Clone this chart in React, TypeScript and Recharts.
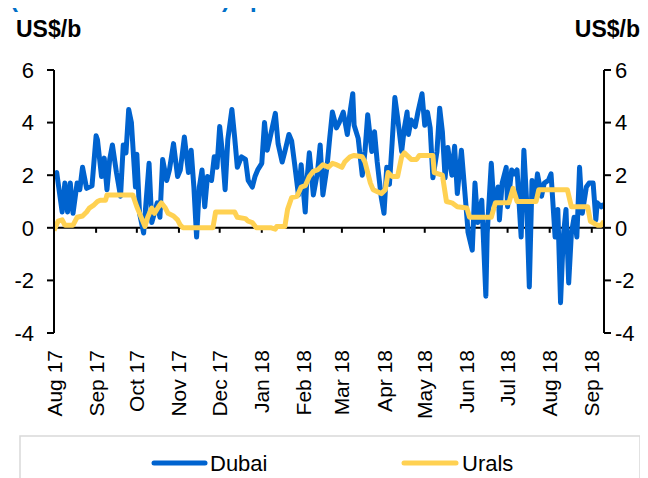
import React from 'react';
import { LineChart, Line, XAxis, YAxis, ReferenceLine } from 'recharts';

// Day offsets counted from 1 Aug 2017
const monthLabels = ['Aug 17', 'Sep 17', 'Oct 17', 'Nov 17', 'Dec 17', 'Jan 18', 'Feb 18', 'Mar 18', 'Apr 18', 'May 18', 'Jun 18', 'Jul 18', 'Aug 18', 'Sep 18'];
const monthDays = [0, 31, 61, 92, 122, 153, 184, 212, 243, 273, 304, 334, 365, 396];
const yTicks = [-4, -2, 0, 2, 4, 6];

const dubaiDays = [
  0, 2, 6, 8, 10, 12, 14, 17, 19, 21, 24, 28, 31, 32, 35, 37, 39, 41, 43, 46,
  49, 51, 53, 55, 57, 60, 61, 63, 66, 70, 72, 76, 78, 80, 83, 85, 88, 91, 93, 96,
  99, 101, 103, 105, 107, 109, 111, 113, 116, 118, 120, 122, 124, 126, 128, 131, 133, 135, 138, 141,
  143, 146, 148, 150, 153, 155, 157, 159, 163, 165, 168, 170, 173, 175, 177, 180, 182, 185, 186, 188,
  191, 194, 196, 198, 201, 203, 205, 208, 210, 213, 216, 218, 220, 221, 224, 227, 229, 231, 234, 236,
  238, 241, 243, 245, 247, 249, 251, 253, 256, 258, 260, 261, 263, 266, 268, 271, 273, 275, 277, 279,
  282, 284, 286, 288, 290, 293, 295, 297, 300, 302, 305, 308, 310, 312, 315, 318, 319, 322, 324, 327,
  328, 330, 333, 334, 337, 339, 341, 344, 346, 348, 350, 352, 354, 356, 359, 361, 364, 366, 369, 371,
  373, 375, 377, 379, 381, 383, 385, 387, 389, 392, 394, 397, 399, 400, 403, 405,
];
const dubaiValues = [
  2.0, 2.1, 0.6, 1.7, 0.6, 1.7, 0.55, 1.7, 1.45, 2.3, 1.5, 1.6, 3.5, 3.35, 1.95, 2.65, 1.45, 2.6, 3.15, 2.1,
  1.2, 3.15, 2.85, 4.5, 4.0, 1.55, 2.8, 0.55, -0.2, 2.45, 0.2, 0.95, 0.4, 2.6, 1.8, 2.2, 3.2, 1.95, 2.2, 3.45,
  2.1, 2.95, 1.55, -0.35, 1.55, 2.2, 0.8, 1.95, 1.8, 2.7, 2.3, 3.85, 2.85, 1.45, 3.35, 4.5, 3.45, 2.3, 2.7, 2.6,
  1.8, 1.55, 1.95, 2.2, 2.45, 4.0, 2.95, 3.4, 4.35, 3.2, 2.5, 2.9, 3.55, 3.3, 2.5, 1.25, 2.4, 0.6, 1.65, 2.85,
  1.25, 2.1, 3.15, 1.25, 2.3, 3.4, 4.4, 3.8, 4.0, 4.4, 3.55, 4.4, 5.1, 3.9, 3.4, 2.0, 2.9, 4.3, 2.9, 3.65,
  2.5, 1.15, 0.55, 2.3, 1.65, 3.25, 4.95, 4.2, 2.9, 3.8, 4.4, 3.55, 4.1, 3.85, 4.4, 5.1, 3.9, 4.4, 3.8, 1.9,
  2.9, 4.55, 3.65, 1.9, 3.05, 2.0, 3.1, 1.3, 2.95, 1.7, -0.2, -0.85, 1.7, 0.2, 1.05, -2.6, -0.2, 2.45, 0.8, 1.55,
  0.3, 1.7, 2.3, 0.8, 2.2, 2.05, 2.2, -0.35, 2.95, 1.05, -2.25, 1.8, 1.05, 2.05, 1.2, 1.7, 1.8, 2.05, -0.35, 0.7,
  -2.85, -0.35, 0.7, -2.1, -0.2, 0.4, -0.35, 2.3, 0.55, 1.55, 1.7, 1.7, 0.3, 0.95, 0.8, 0.9,
];

const uralsDays = [
  0, 3, 6, 8, 14, 17, 21, 24, 26, 29, 32, 34, 38, 39, 58, 61, 63, 67, 69, 72,
  74, 77, 79, 82, 84, 88, 91, 93, 95, 117, 119, 133, 135, 141, 143, 146, 149, 160, 163, 164,
  170, 172, 175, 179, 182, 185, 188, 191, 194, 198, 202, 205, 208, 212, 214, 218, 221, 227, 229, 233,
  235, 241, 244, 246, 249, 253, 256, 258, 263, 267, 269, 279, 280, 286, 289, 293, 297, 304, 306, 322,
  325, 335, 338, 341, 355, 357, 378, 381, 393, 395, 400, 403, 405,
];
const uralsValues = [
  -0.1, 0.25, 0.3, 0.1, 0.1, 0.4, 0.45, 0.6, 0.75, 0.85, 1.0, 1.05, 1.05, 1.25, 1.25, 0.8, 0.55, 0.05, 0.4, 0.75,
  0.55, 0.8, 0.95, 0.75, 0.55, 0.45, 0.3, 0.1, 0.0, 0.0, 0.6, 0.6, 0.4, 0.35, 0.25, 0.2, 0.0, 0.0, -0.05, 0.05,
  0.05, 0.7, 1.15, 1.2, 1.55, 1.6, 1.95, 2.15, 2.2, 2.4, 2.3, 2.45, 2.4, 2.3, 2.5, 2.7, 2.75, 2.7, 2.5, 1.7,
  1.45, 1.3, 1.45, 2.1, 1.95, 1.95, 2.7, 2.85, 2.6, 2.6, 2.75, 2.75, 2.1, 2.0, 1.0, 0.95, 0.8, 0.75, 0.4, 0.4,
  0.95, 0.95, 1.5, 1.0, 1.0, 1.45, 1.45, 0.8, 0.8, 0.25, 0.1, 0.1, 0.25,
];

const dubaiData = dubaiDays.map((d, i) => ({ d, v: dubaiValues[i] }));
const uralsData = uralsDays.map((d, i) => ({ d, v: uralsValues[i] }));

const BLUE = '#0063CF';
const YELLOW = '#FFD152';
const FONT = '"Liberation Sans", Arial, sans-serif';

const XTick = (props: any) => {
  const { x, y, payload } = props;
  const idx = monthDays.indexOf(payload.value);
  return (
    <text
      x={x}
      y={y}
      transform={`rotate(-90 ${x} ${y})`}
      textAnchor="end"
      dy="0.36em"
      fontSize={21}
      fontFamily={FONT}
      fill="#000"
    >
      {monthLabels[idx]}
    </text>
  );
};

export default function App() {
  return (
    <div style={{ position: 'relative', width: 648, height: 478, margin: '-8px 0 0 -8px', background: '#fff', overflow: 'hidden' }}>
      <LineChart width={648} height={478} margin={{ top: 70, right: 0, bottom: 0, left: 0 }}>
        <XAxis
          dataKey="d"
          type="number"
          domain={[0, 405]}
          ticks={monthDays}
          interval={0}
          axisLine={false}
          tickLine={false}
          tickSize={0}
          tickMargin={17}
          height={145}
          tick={<XTick />}
          allowDataOverflow
        />
        <YAxis
          yAxisId="left"
          domain={[-4, 6]}
          ticks={yTicks}
          interval={0}
          width={54}
          tickSize={7}
          tickMargin={13}
          axisLine={{ stroke: '#000', strokeWidth: 2 }}
          tickLine={{ stroke: '#000', strokeWidth: 2 }}
          tick={{ fill: '#000', fontSize: 22, fontFamily: FONT }}
        />
        <YAxis
          yAxisId="right"
          orientation="right"
          domain={[-4, 6]}
          ticks={yTicks}
          interval={0}
          width={44}
          tickSize={7}
          tickMargin={4}
          axisLine={{ stroke: '#000', strokeWidth: 2 }}
          tickLine={{ stroke: '#000', strokeWidth: 2 }}
          tick={{ fill: '#000', fontSize: 22, fontFamily: FONT, textAnchor: 'start' }}
        />
        <ReferenceLine yAxisId="left" y={0} stroke="#000" strokeWidth={2} />
        {monthDays.map((d) => (
          <ReferenceLine
            key={d}
            yAxisId="left"
            segment={[{ x: d, y: 0 }, { x: d, y: -0.19 }]}
            stroke="#000"
            strokeWidth={2}
          />
        ))}
        <Line
          yAxisId="left"
          data={dubaiData}
          dataKey="v"
          type="linear"
          stroke={BLUE}
          strokeWidth={5}
          strokeLinejoin="round"
          dot={false}
          isAnimationActive={false}
        />
        <Line
          yAxisId="right"
          data={uralsData}
          dataKey="v"
          type="linear"
          stroke={YELLOW}
          strokeWidth={5}
          strokeLinejoin="round"
          dot={false}
          isAnimationActive={false}
        />
      </LineChart>
      <svg width={648} height={478} style={{ position: 'absolute', left: 0, top: 0, pointerEvents: 'none' }}>
        <text x={10} y={7} fontSize={24} fontWeight="bold" fontFamily={FONT} fill="#0070C8">
          (Brent-Dubai/Urals) spread
        </text>
        <text x={16} y={37} fontSize={23} fontWeight="bold" fontFamily={FONT} fill="#000">US$/b</text>
        <text x={640} y={37} fontSize={23} fontWeight="bold" fontFamily={FONT} fill="#000" textAnchor="end">US$/b</text>
        <rect x={20} y={436} width={620} height={60} fill="none" stroke="#d9d9d9" strokeWidth={1.5} />
        <line x1={154} y1={463} x2={205} y2={463} stroke={BLUE} strokeWidth={5} strokeLinecap="round" />
        <text x={210} y={471} fontSize={22} fontFamily={FONT} fill="#000">Dubai</text>
        <line x1={404} y1={463} x2={456} y2={463} stroke={YELLOW} strokeWidth={5} strokeLinecap="round" />
        <text x={462} y={471} fontSize={22} fontFamily={FONT} fill="#000">Urals</text>
      </svg>
    </div>
  );
}
